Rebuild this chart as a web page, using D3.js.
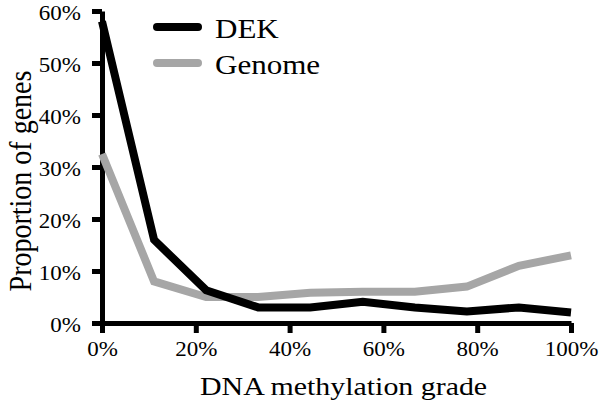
<!DOCTYPE html>
<html>
<head>
<meta charset="utf-8">
<script src="https://cdn.jsdelivr.net/npm/d3@7"></script>
<style>
  body { margin: 0; background: #fff; }
</style>
</head>
<body>
<div id="chart"></div>
<script>
// data (percent)
let grades = [0, 11.1, 22.2, 33.3, 44.4, 55.6, 66.7, 77.8, 88.9, 100];
let dek = [58, 16, 6.3, 3, 3, 4.1, 3, 2.2, 3, 2];
let genome = [32.5, 8, 5, 5, 5.8, 6, 6, 7, 11, 13];
let seriesNames = ["DEK", "Genome"];
let xTicks = [0, 20, 40, 60, 80, 100];
let yTicks = [0, 10, 20, 30, 40, 50, 60];

let width = 600, height = 410;
let margin = {top: 11, right: 29, bottom: 87, left: 102};
let chartWidth = width - margin.left - margin.right;
let chartHeight = height - margin.top - margin.bottom;
let stretch = 1.15; // the glyphs in the picture are a bit wider than Times
let serif = "Liberation Serif";

let svg = d3.select("#chart").append("svg").attr("width", width).attr("height", height);
let chartGroup = svg.append("g").attr("transform", `translate(${margin.left}, ${margin.top})`);

let xScale = d3.scaleLinear().domain([0, 100]).range([0, chartWidth]);
let yScale = d3.scaleLinear().domain([0, 60]).range([chartHeight, 0]);

// axes
let xAxis = d3.axisBottom(xScale).tickValues(xTicks).tickSize(10).tickSizeOuter(0)
    .tickFormat(d => d + "%");
let yAxis = d3.axisLeft(yScale).tickValues(yTicks).tickSize(10).tickSizeOuter(0)
    .tickFormat(d => d + "%");

let gx = chartGroup.append("g").attr("transform", `translate(0, ${chartHeight})`).call(xAxis);
let gy = chartGroup.append("g").call(yAxis);

[gx, gy].forEach(g => {
    g.attr("font-family", serif);
    g.select(".domain").attr("stroke", "#000").attr("stroke-width", 5);
    g.selectAll(".tick line").attr("stroke", "#000").attr("stroke-width", 5);
    g.selectAll(".tick text").attr("font-size", 20).attr("font-family", serif)
        .attr("fill", "#000").attr("transform", `scale(${stretch},1)`);
});
gx.selectAll(".tick text").attr("y", 19).attr("dy", "0.71em");
gy.selectAll(".tick text").attr("x", -21 / stretch).attr("dy", "0.40em");

// lines
let line = d3.line().x((d, i) => xScale(grades[i])).y(d => yScale(d));

chartGroup.append("path").datum(genome).attr("d", line)
    .attr("fill", "none").attr("stroke", "#a6a6a6").attr("stroke-width", 8);
chartGroup.append("path").datum(dek).attr("d", line)
    .attr("fill", "none").attr("stroke", "#000").attr("stroke-width", 8);

// legend
let legendColors = ["#000", "#a6a6a6"];
let legend = svg.append("g").attr("transform", "translate(157, 27)");
seriesNames.forEach((name, i) => {
    let row = legend.append("g").attr("transform", `translate(0, ${i * 36})`);
    row.append("line").attr("x1", 0).attr("x2", 41).attr("y1", 0).attr("y2", 0)
        .attr("stroke", legendColors[i]).attr("stroke-width", 8).attr("stroke-linecap", "round");
    row.append("text").attr("transform", `translate(58, 11) scale(${stretch},1)`)
        .attr("font-family", serif).attr("font-size", 27).text(name);
});

// axis titles
svg.append("text").attr("transform", `translate(200, 395) scale(${stretch},1)`)
    .attr("font-family", serif).attr("font-size", 26).text("DNA methylation grade");

svg.append("text").attr("transform", `translate(31, 181) rotate(-90) scale(1,1.1)`)
    .attr("font-family", serif).attr("text-anchor", "middle").attr("font-size", 28)
    .text("Proportion of genes");
</script>
</body>
</html>
